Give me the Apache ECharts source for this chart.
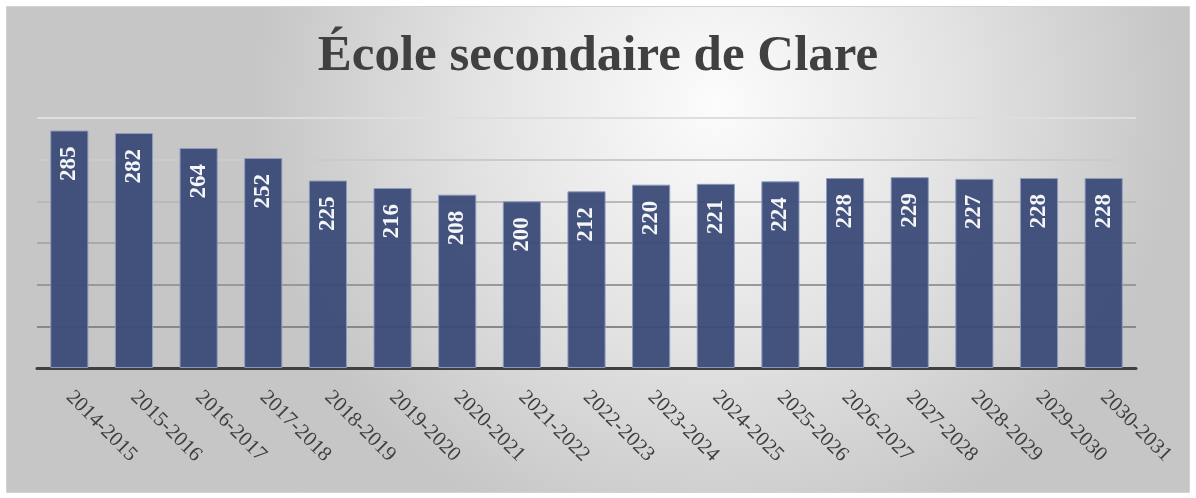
<!DOCTYPE html>
<html>
<head>
<meta charset="utf-8">
<script src="https://cdn.jsdelivr.net/npm/echarts@6/dist/echarts.min.js"></script>
<style>
html, body { margin: 0; padding: 0; background: #fff; }
#chart { width: 1196px; height: 498px; }
</style>
</head>
<body>
<div id="chart"></div>
<script>
const titleText = 'École secondaire de Clare'
const years = ['2014-2015', '2015-2016', '2016-2017', '2017-2018', '2018-2019', '2019-2020',
  '2020-2021', '2021-2022', '2022-2023', '2023-2024', '2024-2025', '2025-2026',
  '2026-2027', '2027-2028', '2028-2029', '2029-2030', '2030-2031']
const students = [285, 282, 264, 252, 225, 216, 208, 200, 212, 220, 221, 224, 228, 229, 227, 228, 228]
const yMin = 0, yMax = 300, yStep = 50

let myChart = echarts.init(document.getElementById('chart'))
let option = {
  backgroundColor: '#fff',
  graphic: [{
    type: 'rect',
    z: -10,
    shape: { x: 6.5, y: 6.5, width: 1183, height: 486 },
    style: {
      fill: new echarts.graphic.RadialGradient(0.6, 0.2, 0.95, [
        { offset: 0, color: '#fcfcfc' },
        { offset: 0.5, color: '#e4e4e4' },
        { offset: 1, color: '#c6c6c6' }
      ]),
      stroke: '#d2d2d2',
      lineWidth: 1
    }
  }],
  title: {
    text: titleText,
    left: 'center',
    top: 26,
    textStyle: {
      fontFamily: 'Liberation Serif',
      fontWeight: 'bold',
      fontSize: 51,
      color: '#404040'
    }
  },
  grid: { left: 37, right: 60, top: 118, bottom: 130 },
  xAxis: {
    type: 'category',
    data: years,
    axisTick: { show: false },
    axisLine: { lineStyle: { color: '#404040', width: 3 } },
    axisLabel: {
      interval: 0,
      rotate: -45,
      margin: 26,
      fontFamily: 'Liberation Serif',
      fontSize: 21,
      color: '#404040'
    }
  },
  yAxis: {
    type: 'value',
    min: yMin,
    max: yMax,
    interval: yStep,
    axisLabel: { show: false },
    axisLine: { show: false },
    axisTick: { show: false },
    splitLine: {
      lineStyle: {
        width: 2,
        color: ['#7a7a7a', '#888888', '#999999', '#a9a9a9', '#b9b9b9', '#cbcbcb', '#dedede']
      }
    }
  },
  series: [{
    type: 'bar',
    data: students,
    barCategoryGap: '41%',
    itemStyle: {
      color: '#3a4b78',
      opacity: 0.95,
      borderColor: '#8c9cbf',
      borderWidth: 1
    },
    label: {
      show: true,
      position: 'insideTop',
      rotate: 90,
      align: 'right',
      verticalAlign: 'middle',
      distance: 16,
      fontFamily: 'Liberation Serif',
      fontWeight: 'bold',
      fontSize: 23,
      color: '#ffffff'
    }
  }]
}
myChart.setOption(option)
window.addEventListener('resize', function () {
  myChart.resize()
})
</script>
</body>
</html>
